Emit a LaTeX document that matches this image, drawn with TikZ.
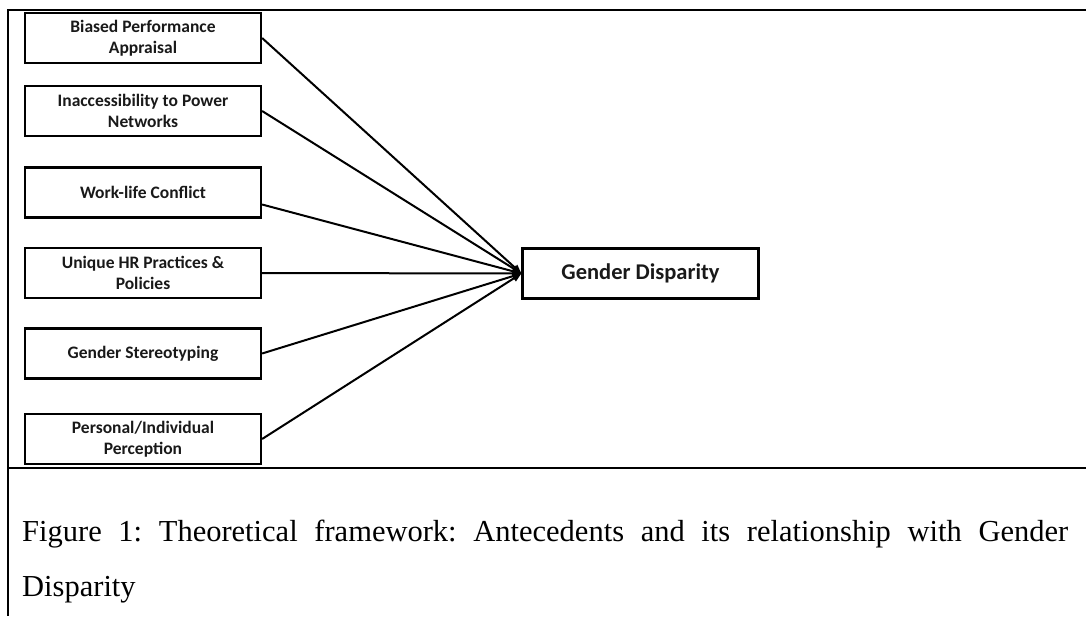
\documentclass[tikz,border=0pt]{standalone}
\usepackage{fontspec}
\setmainfont{Carlito}
\newfontfamily\captionfont{Liberation Serif}
\usetikzlibrary{arrows.meta}
\hyphenation{Disparity}

\tikzset{
    factor/.style={draw, line width=2.2pt, align=center,
        font=\fontsize{17.5}{21}\selectfont\bfseries, text=black!90,
        minimum width=236pt, minimum height=50pt, inner sep=2pt},
    outcome/.style={factor, font=\fontsize{22.5}{27}\selectfont\bfseries},
    frame/.style={line width=2pt},
    caption/.style={inner sep=0pt, text width=1046pt, align=justify,
        font=\captionfont\fontsize{30.5}{55}\selectfont},
    link/.style={-{Triangle[length=9pt,width=7pt]}, line width=2pt}
}

\begin{document}
\begin{tikzpicture}[x=1pt,y=1pt]
    \useasboundingbox (0,0) rectangle (1086,-616);
    \draw[frame] (1086,-10) -- (8,-10) -- (8,-616);
    \draw[frame] (8,-468) -- (1086,-468);
    \node[factor] (appraisal) at (143,-38) {Biased Performance\\Appraisal};
    \node[factor] (networks) at (143,-111) {Inaccessibility to Power\\Networks};
    \node[factor] (worklife) at (143,-192.5) {Work-life Conflict};
    \node[factor] (hrpolicies) at (143,-273) {Unique HR Practices \&\\Policies};
    \node[factor] (stereotyping) at (143,-353.5) {Gender Stereotyping};
    \node[factor] (perception) at (143,-439) {Personal/Individual\\Perception};
    \node[outcome] (disparity) at (640.5,-273.5) {Gender Disparity};
    \draw[link] (appraisal.east) -- (disparity.west);
    \draw[link] (networks.east) -- (disparity.west);
    \draw[link] ([yshift=-12pt]worklife.east) -- (disparity.west);
    \draw[link] (hrpolicies.east) -- (disparity.west);
    \draw[link] (stereotyping.east) -- (disparity.west);
    \draw[link] (perception.east) -- (disparity.west);
    \node[caption, anchor=north west] (figcaption) at (22,-520)
        {\frenchspacing\tolerance=10000\hyphenpenalty=10000 Figure 1: Theoretical framework: Antecedents and its relationship with Gender\linebreak Disparity};
\end{tikzpicture}
\end{document}
